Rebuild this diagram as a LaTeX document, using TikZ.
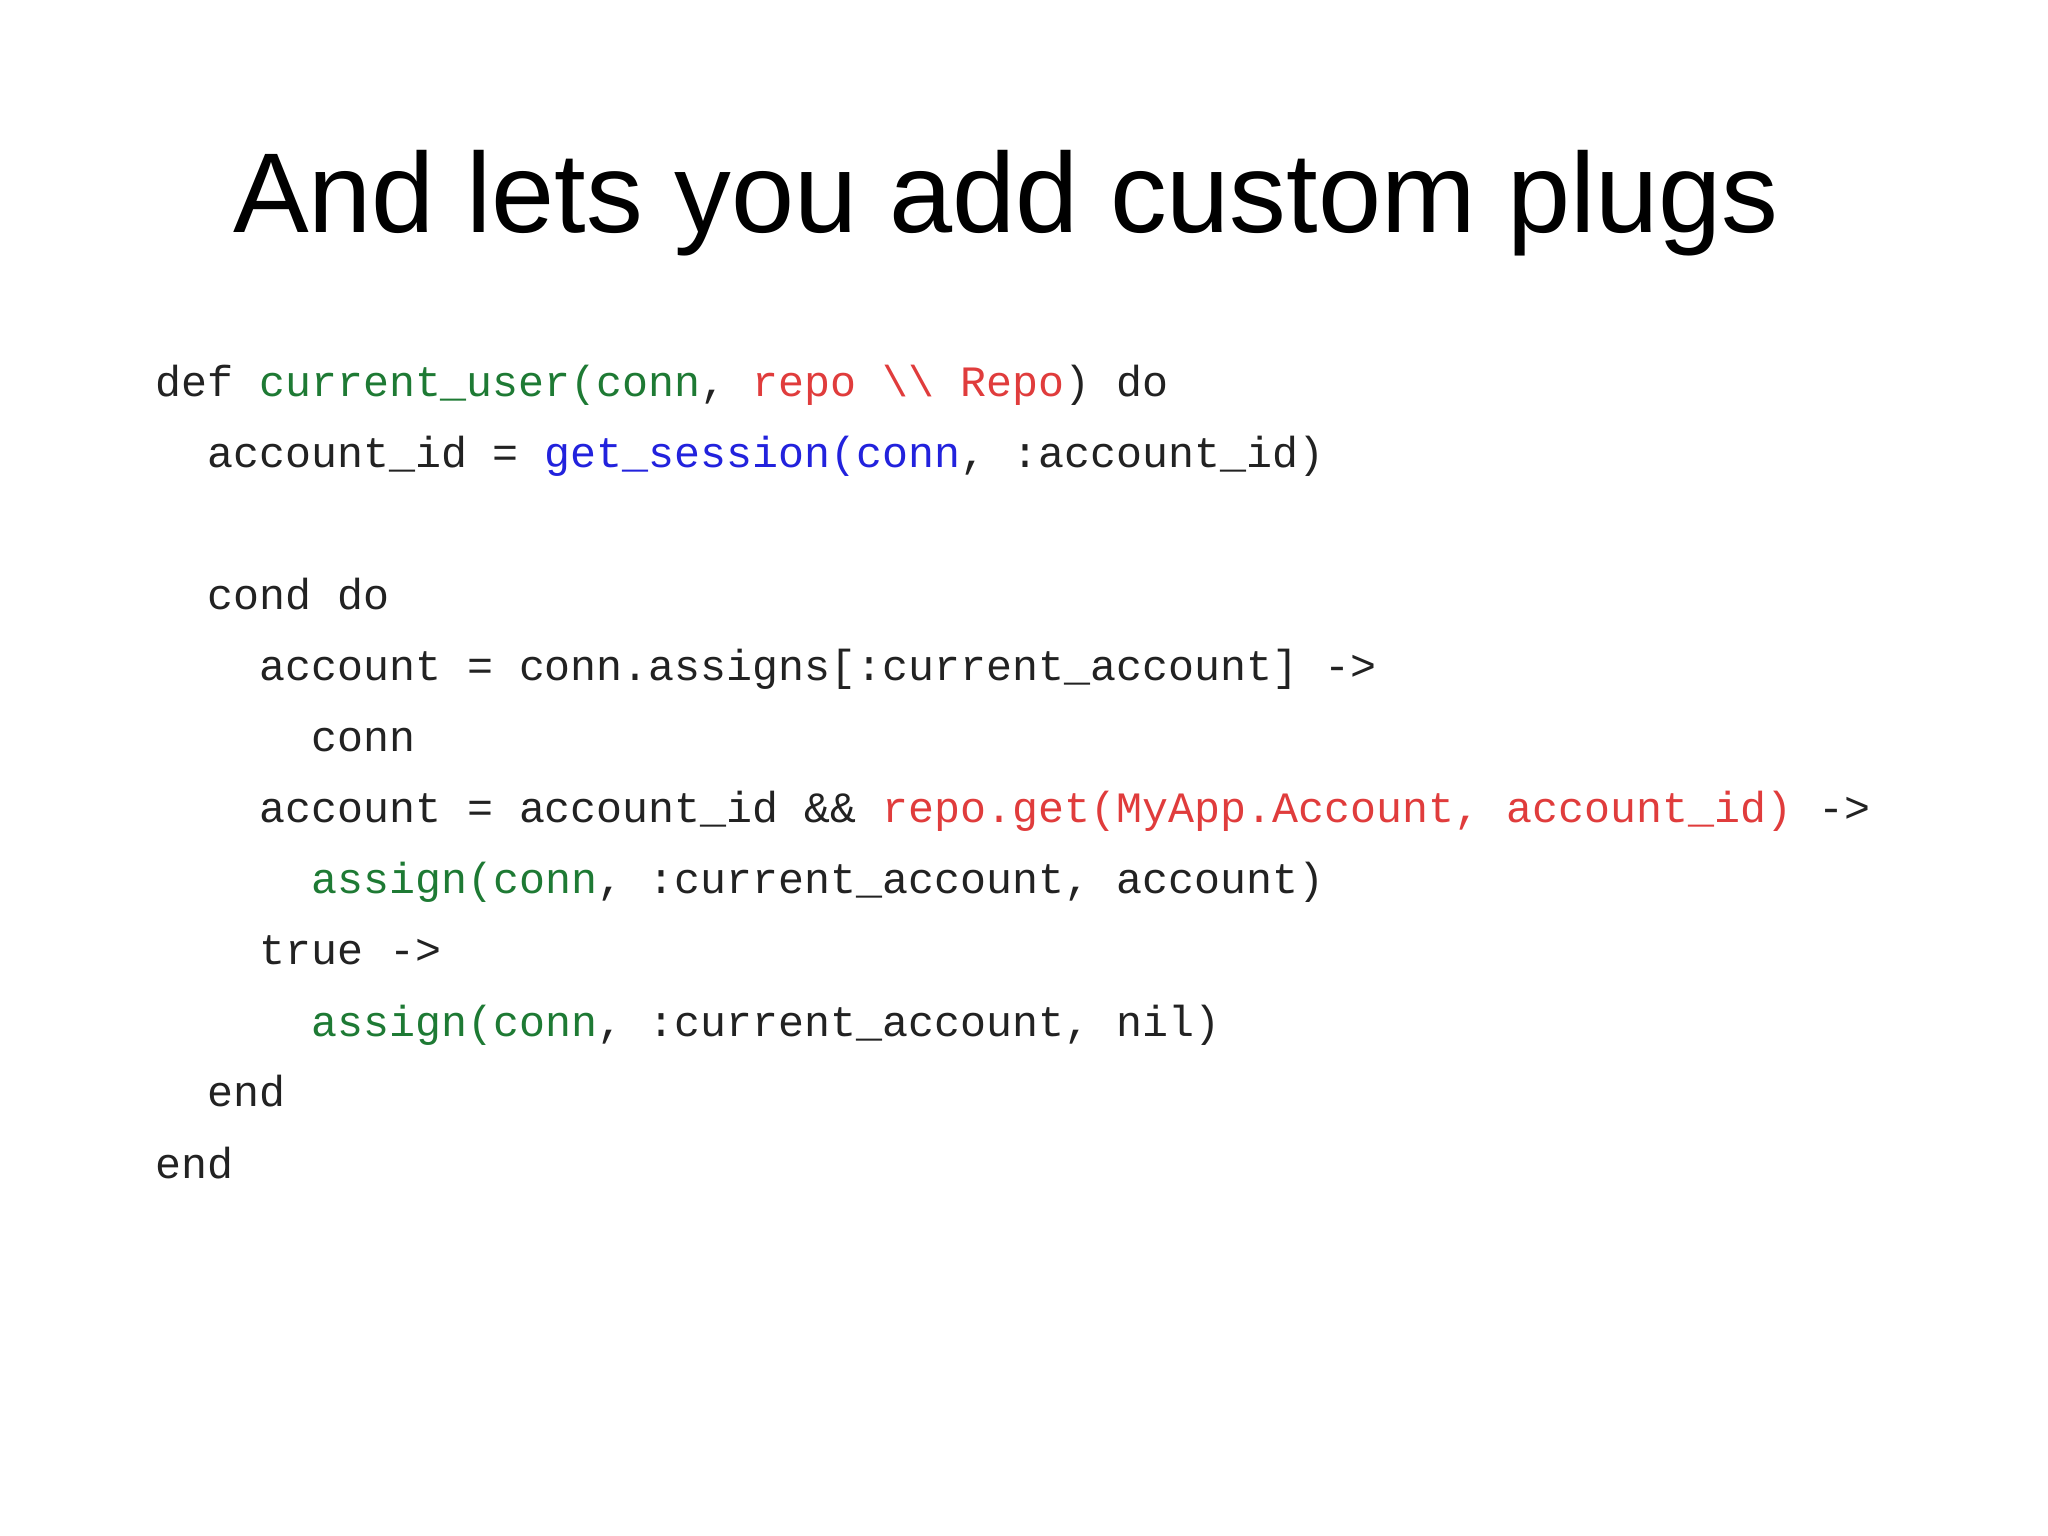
\documentclass[tikz,border=0pt]{standalone}
\usepackage{fontspec}
\setmainfont{Liberation Sans}
\newfontfamily\code[Ligatures=NoCommon]{Liberation Mono}
\definecolor{cg}{HTML}{1E7A34}
\definecolor{cr}{HTML}{E03C3C}
\definecolor{cb}{HTML}{2222DD}
\definecolor{ck}{HTML}{222222}
\begin{document}
\begin{tikzpicture}[x=1pt,y=-1pt,
  ln/.style={anchor=base west,inner sep=0pt,font=\code\fontsize{43.3}{50}\selectfont,text=ck}]
\useasboundingbox[fill=white] (0,0) rectangle (2048,1535);
\node[anchor=base,inner sep=0pt,font=\fontsize{113.5}{125}\selectfont] (title) at (1006,232) {And lets you add custom plugs};
\def\cw{26}
\node[ln] (l1) at (155,396) {def \textcolor{cg}{current\_user(conn}, \textcolor{cr}{repo \textbackslash\textbackslash{} Repo}) do};
\node[ln] (l2) at (155+2*\cw,467) {account\_id = \textcolor{cb}{get\_session(conn}, :account\_id)};
\node[ln] (l3) at (155+2*\cw,609) {cond do};
\node[ln] (l4) at (155+4*\cw,680) {account = conn.assigns[:current\_account] ->};
\node[ln] (l5) at (155+6*\cw,751) {conn};
\node[ln] (l6) at (155+4*\cw,822) {account = account\_id \&\& \textcolor{cr}{repo.get(MyApp.Account, account\_id)} ->};
\node[ln] (l7) at (155+6*\cw,893) {\textcolor{cg}{assign(conn}, :current\_account, account)};
\node[ln] (l8) at (155+4*\cw,964) {true ->};
\node[ln] (l9) at (155+6*\cw,1036) {\textcolor{cg}{assign(conn}, :current\_account, nil)};
\node[ln] (l10) at (155+2*\cw,1106) {end};
\node[ln] (l11) at (155,1178) {end};
\end{tikzpicture}
\end{document}
